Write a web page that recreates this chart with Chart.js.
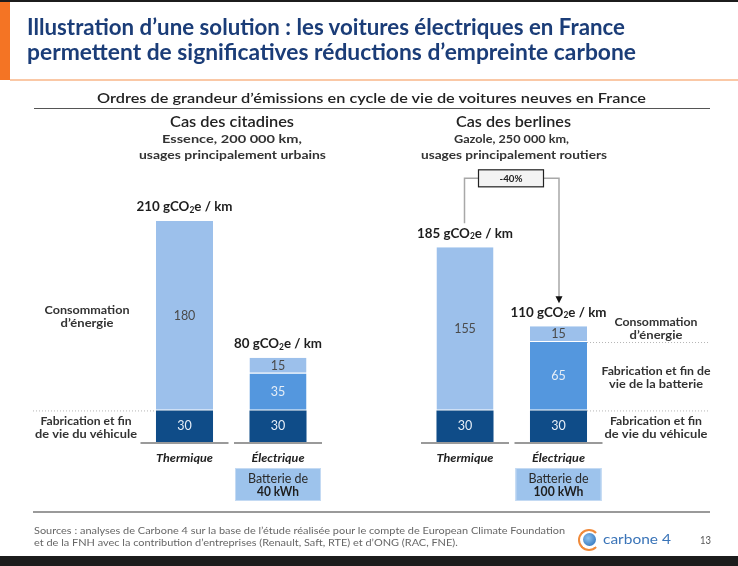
<!DOCTYPE html>
<html lang="fr">
<head>
<meta charset="utf-8">
<script src="https://cdn.jsdelivr.net/npm/chart.js@4"></script>
<style>
  html,body{margin:0;padding:0;}
  body{width:738px;height:566px;position:relative;overflow:hidden;background:#fff;font-family:"Lato","Open Sans",sans-serif;}
  .blk{position:absolute;}
  .t{position:absolute;white-space:nowrap;transform-origin:0 50%;line-height:1.2;z-index:2;}
  #c{position:absolute;left:0;top:0;z-index:1;}
</style>
</head>
<body>
<div class="blk" style="left:0;top:0;width:738px;height:2px;background:#1c1c1c"></div>
<div class="blk" style="left:0;top:2px;width:10px;height:78px;background:#F47424"></div>
<div class="blk" style="left:10px;top:79px;width:728px;height:2px;background:#FAC8A6"></div>
<div class="blk" style="left:0;top:556px;width:738px;height:10px;background:#1c1c1c"></div>
<div class="blk" style="left:33px;top:511px;width:677px;height:2px;background:#9a9a9a"></div>
<div class="blk" style="left:34px;top:108px;width:676px;height:1px;background:#555"></div>

<span class="t" data-x="27" data-y="27" data-w="598" style="font-size:22px;font-weight:700;color:#1B3D78">Illustration d’une solution : les voitures électriques en France</span>
<span class="t" data-x="27" data-y="52" data-w="609" style="font-size:22px;font-weight:700;color:#1B3D78">permettent de significatives réductions d’empreinte carbone</span>

<span class="t" data-cx="371" data-y="98" data-w="549" style="font-size:14px;font-weight:600;color:#222">Ordres de grandeur d’émissions en cycle de vie de voitures neuves en France</span>

<span class="t" data-cx="232" data-y="122" data-w="124" style="font-size:14.5px;font-weight:600;color:#222">Cas des citadines</span>
<span class="t" data-cx="232" data-y="139" data-w="140" style="font-size:12px;font-weight:700;color:#333">Essence, 200 000 km,</span>
<span class="t" data-cx="232" data-y="155" data-w="187" style="font-size:12px;font-weight:700;color:#333">usages principalement urbains</span>

<span class="t" data-cx="513" data-y="122" data-w="115" style="font-size:14.5px;font-weight:600;color:#222">Cas des berlines</span>
<span class="t" data-cx="511" data-y="139" data-w="115" style="font-size:12px;font-weight:700;color:#333">Gazole, 250 000 km,</span>
<span class="t" data-cx="514" data-y="155" data-w="186" style="font-size:12px;font-weight:700;color:#333">usages principalement routiers</span>

<span class="t" id="src1" data-x="34" data-y="531" data-w="531" style="font-size:9.5px;color:#666">Sources : analyses de Carbone 4 sur la base de l’étude réalisée pour le compte de European Climate Foundation</span>
<span class="t" data-x="34" data-y="543" data-same="src1" style="font-size:9.5px;color:#666">et de la FNH avec la contribution d’entreprises (Renault, Saft, RTE) et d’ONG (RAC, FNE).</span>

<div class="blk" style="left:578px;top:529px;width:18px;height:18px;border-radius:50%;border:2px solid #F08A3A;border-right-color:transparent;z-index:2"></div>
<div class="blk" style="left:583px;top:533px;width:13px;height:13px;border-radius:50%;background:radial-gradient(circle at 40% 40%,#8fc3f0,#1f66b3);z-index:2"></div>
<span class="t" data-x="603" data-y="539" data-w="68" style="font-size:14px;color:#3A74B8">carbone 4</span>
<span class="t" data-x="700" data-y="540" data-w="11" style="font-size:11px;color:#555">13</span>

<canvas id="c" width="738" height="566"></canvas>

<script>
// ---- data ----
const categories = ['Thermique', 'Électrique', '', 'Thermique', 'Électrique'];
const vehicule   = [30, 30, null, 30, 30];
const batterie   = [null, 35, null, null, 65];
const energie    = [180, 15, null, 155, 15];
const totals     = [210, 80, null, 185, 110];
const batteryKWh = [null, '40 kWh', null, null, '100 kWh'];
const reduction  = '-40%';
const seriesNames = ['Fabrication et fin de vie du véhicule', 'Fabrication et fin de vie de la batterie', 'Consommation d’énergie'];

// ---- HTML text fitting ----
function fitAll(){
  const scales = {};
  document.querySelectorAll('.t').forEach(el=>{
    el.style.transform='none';
    const r = el.getBoundingClientRect();
    let s = 1;
    if (el.dataset.w) s = +el.dataset.w / r.width;
    else if (el.dataset.same && scales[el.dataset.same]) s = scales[el.dataset.same];
    if (el.id) scales[el.id] = s;
    const tw = r.width * s;
    const x = el.dataset.cx !== undefined ? (+el.dataset.cx - tw/2) : +el.dataset.x;
    el.style.left = x + 'px';
    el.style.top = (+el.dataset.y - r.height/2) + 'px';
    el.style.transform = 'scaleX(' + s + ')';
  });
}
fitAll();
if (document.fonts && document.fonts.ready) document.fonts.ready.then(fitAll);

// ---- canvas helpers ----
const FONT = '"Lato","Open Sans",sans-serif';
function txt(ctx, text, cx, cy, font, color, tw){
  ctx.save();
  ctx.font = font; ctx.fillStyle = color; ctx.textBaseline = 'middle'; ctx.textAlign = 'center';
  const w = ctx.measureText(text).width;
  const s = tw ? tw / w : 1;
  ctx.translate(cx, cy); ctx.scale(s, 1);
  ctx.fillText(text, 0, 0);
  ctx.restore();
}
function co2(ctx, total, cx, cy, tw){
  const big = 'bold 13.5px ' + FONT, small = 'bold 8.5px ' + FONT;
  const parts = [[total + ' gCO', big, 0], ['2', small, 3], ['e / km', big, 0]];
  ctx.save();
  ctx.textBaseline = 'middle'; ctx.textAlign = 'left'; ctx.fillStyle = '#1e1e1e';
  let w = 0;
  parts.forEach(p => { ctx.font = p[1]; w += ctx.measureText(p[0]).width; });
  const s = tw / w;
  ctx.translate(cx - tw/2, cy); ctx.scale(s, 1);
  let x = 0;
  parts.forEach(p => { ctx.font = p[1]; ctx.fillText(p[0], x, p[2]); x += ctx.measureText(p[0]).width; });
  ctx.restore();
}
function dotted(ctx, x1, x2, y){
  ctx.save(); ctx.strokeStyle = '#b5b5b5'; ctx.lineWidth = 1; ctx.setLineDash([1, 2]);
  ctx.beginPath(); ctx.moveTo(x1, y + 0.5); ctx.lineTo(x2, y + 0.5); ctx.stroke(); ctx.restore();
}

const annot = {
  id: 'annot',
  afterDatasetsDraw(chart){
    const ctx = chart.ctx, y = chart.scales.y;
    const m0 = chart.getDatasetMeta(0), m1 = chart.getDatasetMeta(1), m2 = chart.getDatasetMeta(2);
    const base = y.getPixelForValue(0);
    const labelFont = 'bold 11.5px ' + FONT;
    // value labels inside segments
    [m0, m1, m2].forEach((m, di) => {
      m.data.forEach((el, i) => {
        const v = chart.data.datasets[di].data[i];
        if (!v) return;
        const col = di === 2 ? '#4a4a4a' : '#e6eef7';
        txt(ctx, String(v), el.x, (el.y + el.base) / 2, '12.5px ' + FONT, col);
      });
    });
    categories.forEach((c, i) => {
      if (!c) return;
      const el = m0.data[i];
      // baseline
      ctx.save(); ctx.fillStyle = '#9a9a9a';
      ctx.fillRect(el.x - 44, base, 88, 2); ctx.restore();
      // totals
      const topPx = y.getPixelForValue(totals[i]);
      co2(ctx, totals[i], el.x, topPx - 14, i === 1 ? 88 : 96);
      // category label
      txt(ctx, c, el.x, base + 16, 'italic bold 11.5px ' + FONT, '#222', c === 'Thermique' ? 57 : 53);
      // battery box
      if (batteryKWh[i]){
        ctx.save();
        ctx.fillStyle = '#9DC3EC'; ctx.strokeStyle = '#c4daf3'; ctx.lineWidth = 1;
        ctx.fillRect(el.x - 43, base + 26, 86, 33);
        ctx.strokeRect(el.x - 42.5, base + 26.5, 85, 32);
        ctx.restore();
        txt(ctx, 'Batterie de', el.x, base + 37, '12.5px ' + FONT, '#2a2a2a', 60);
        txt(ctx, batteryKWh[i], el.x, base + 50, 'bold 12.5px ' + FONT, '#1e1e1e', batteryKWh[i].length > 6 ? 50 : 42);
      }
    });
    // left side labels (group 1)
    const b0 = m0.data[0], e0 = m2.data[0];
    const vTop0 = y.getPixelForValue(vehicule[0]);
    dotted(ctx, 33, b0.x - b0.width/2, vTop0);
    txt(ctx, 'Consommation', 87, (e0.y + e0.base)/2 - 5, labelFont, '#333', 85);
    txt(ctx, 'd’énergie', 87, (e0.y + e0.base)/2 + 8, labelFont, '#333', 53);
    txt(ctx, 'Fabrication et fin', 86, (b0.y + b0.base)/2 - 5, labelFont, '#333', 91);
    txt(ctx, 'de vie du véhicule', 86, (b0.y + b0.base)/2 + 8, labelFont, '#333', 102);
    // right side labels (group 2)
    const b4 = m0.data[4], bat4 = m1.data[4], e4 = m2.data[4];
    const rx = b4.x + b4.width/2;
    dotted(ctx, rx, 710, bat4.y);
    dotted(ctx, rx, 710, b4.y);
    txt(ctx, 'Consommation', 656, e4.y - 4, labelFont, '#333', 83);
    txt(ctx, 'd’énergie', 656, e4.y + 9, labelFont, '#333', 53);
    txt(ctx, 'Fabrication et fin de', 656, (bat4.y + bat4.base)/2 - 5, labelFont, '#333', 109);
    txt(ctx, 'vie de la batterie', 656, (bat4.y + bat4.base)/2 + 8, labelFont, '#333', 94);
    txt(ctx, 'Fabrication et fin', 656, (b4.y + b4.base)/2 - 5, labelFont, '#333', 92);
    txt(ctx, 'de vie du véhicule', 656, (b4.y + b4.base)/2 + 8, labelFont, '#333', 103);
    // reduction bracket
    const x3 = m0.data[3].x - 1, x4 = m0.data[4].x + 0.5;
    const top3 = y.getPixelForValue(totals[3]), top4 = y.getPixelForValue(totals[4]);
    const by = top3 - 69;
    const bx1 = 478, bx2 = 544;
    ctx.save();
    ctx.strokeStyle = '#a8a8a8'; ctx.lineWidth = 1.5;
    ctx.beginPath();
    ctx.moveTo(x3 + 0.5, top3 - 24); ctx.lineTo(x3 + 0.5, by); ctx.lineTo(bx1, by);
    ctx.moveTo(bx2, by); ctx.lineTo(x4, by); ctx.lineTo(x4, top4 - 29);
    ctx.stroke();
    ctx.fillStyle = '#111';
    ctx.beginPath(); ctx.moveTo(x4 - 3.5, top4 - 30); ctx.lineTo(x4 + 3.5, top4 - 30); ctx.lineTo(x4, top4 - 23); ctx.closePath(); ctx.fill();
    ctx.fillStyle = '#f3f3f3'; ctx.fillRect(bx1, by - 9, bx2 - bx1, 18);
    ctx.strokeStyle = '#222'; ctx.lineWidth = 1.2; ctx.strokeRect(bx1 + 0.5, by - 8.5, bx2 - bx1 - 1, 17);
    ctx.restore();
    txt(ctx, reduction, (bx1 + bx2)/2, by, 'bold 10px ' + FONT, '#222', 23);
  }
};

new Chart(document.getElementById('c'), {
  type: 'bar',
  data: {
    labels: categories,
    datasets: [
      { label: seriesNames[0], data: vehicule, backgroundColor: '#0F4C88', borderColor: 'rgba(255,255,255,0.5)', borderWidth: 0 },
      { label: seriesNames[1], data: batterie, backgroundColor: '#5497DE', borderColor: 'rgba(255,255,255,0.55)', borderWidth: {top: 0, bottom: 1, left: 0, right: 0}, borderSkipped: false },
      { label: seriesNames[2], data: energie,  backgroundColor: '#9CC0EB', borderColor: 'rgba(255,255,255,0.6)', borderWidth: {top: 0, bottom: 1, left: 0, right: 0}, borderSkipped: false }
    ]
  },
  options: {
    responsive: false,
    animation: false,
    devicePixelRatio: 1,
    layout: { padding: { left: 137.75, right: 132.75, top: 126.3, bottom: 124 } },
    datasets: { bar: { barPercentage: 0.61, categoryPercentage: 1 } },
    scales: {
      x: { display: false, stacked: true },
      y: { display: false, stacked: true, min: 0, max: 300 }
    },
    plugins: { legend: { display: false }, tooltip: { enabled: false } }
  },
  plugins: [annot]
});
</script>
</body>
</html>
